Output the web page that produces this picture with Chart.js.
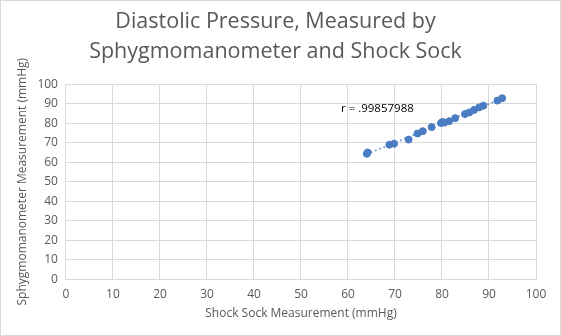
<!DOCTYPE html>
<html>
<head>
<meta charset="utf-8">
<script src="https://cdn.jsdelivr.net/npm/chart.js@4.4.0/dist/chart.umd.min.js"></script>
<style>
  html, body { margin: 0; padding: 0; background: #fff; }
  .wrap { width: 559px; height: 334px; border: 1px solid #d9d9d9; }
</style>
</head>
<body>
<div class="wrap"><canvas id="myChart" width="559" height="334"></canvas></div>
<script>
  // Shock Sock (x) vs Sphygmomanometer (y), diastolic, mmHg
  const shockSock = [64, 64.2, 68.8, 69.8, 72.9, 74.8, 75.9, 77.8, 79.8, 80.1, 80.5, 81.5, 82.8, 84.9, 85.8, 86.8, 87.9, 88.8, 91.8, 92.8];
  const sphygmo   = [64.3, 65, 69, 69.5, 71.6, 74.7, 75.9, 78, 80.1, 80.6, 80.3, 81, 82.6, 84.7, 85.5, 86.8, 88.1, 89, 91.6, 92.8];
  const rLabel = 'r = .99857988';
  const tickValues = [0, 10, 20, 30, 40, 50, 60, 70, 80, 90, 100];

  const points = shockSock.map((x, i) => ({ x: x, y: sphygmo[i] }));

  // linear trendline from the data
  const n = shockSock.length;
  const mx = shockSock.reduce((a, b) => a + b, 0) / n;
  const my = sphygmo.reduce((a, b) => a + b, 0) / n;
  let sxy = 0, sxx = 0;
  for (let i = 0; i < n; i++) {
    sxy += (shockSock[i] - mx) * (sphygmo[i] - my);
    sxx += (shockSock[i] - mx) * (shockSock[i] - mx);
  }
  const slope = sxy / sxx;
  const icpt = my - slope * mx;
  const xMin = Math.min(...shockSock), xMax = Math.max(...shockSock);
  const trend = [
    { x: xMin, y: icpt + slope * xMin },
    { x: xMax, y: icpt + slope * xMax }
  ];

  const grey = '#595959';
  Chart.defaults.font.family = "'Open Sans', 'Liberation Sans', sans-serif";
  Chart.defaults.color = grey;

  // r value text, placed with the chart scales
  const rText = {
    id: 'rText',
    afterDatasetsDraw(chart) {
      const { ctx, scales } = chart;
      ctx.save();
      ctx.font = "11.5px 'Open Sans', 'Liberation Sans', sans-serif";
      ctx.fillStyle = '#000';
      ctx.textAlign = 'left';
      ctx.textBaseline = 'middle';
      ctx.fillText(rLabel, scales.x.getPixelForValue(58.5), scales.y.getPixelForValue(87.4));
      ctx.restore();
    }
  };

  new Chart(document.getElementById('myChart'), {
    type: 'scatter',
    data: {
      datasets: [
        {
          data: points,
          backgroundColor: '#4a7dc2',
          borderColor: '#4a7dc2',
          pointRadius: 3.5,
          pointHoverRadius: 3.5
        },
        {
          type: 'line',
          data: trend,
          borderColor: '#4a7dc2',
          borderWidth: 1.5,
          borderDash: [1.5, 3],
          pointRadius: 0,
          fill: false
        }
      ]
    },
    options: {
      responsive: false,
      animation: false,
      layout: { padding: { left: 14, right: 24, top: 2, bottom: 10 } },
      plugins: {
        legend: { display: false },
        tooltip: { enabled: false },
        title: {
          display: true,
          text: ['Diastolic Pressure, Measured by', 'Sphygmomanometer and Shock Sock'],
          color: grey,
          font: { size: 21.5, weight: 'normal', lineHeight: 1.4 },
          padding: { top: 4, bottom: 17 }
        }
      },
      scales: {
        x: {
          type: 'linear',
          min: 0, max: 100,
          afterBuildTicks: (s) => { s.ticks = tickValues.map(v => ({ value: v })); },
          grid: { color: '#d9d9d9', drawTicks: false },
          border: { color: '#d9d9d9' },
          ticks: { padding: 8, font: { size: 12 }, color: grey },
          title: { display: true, text: 'Shock Sock Measurement (mmHg)', font: { size: 12 }, color: grey, padding: { top: -3 } }
        },
        y: {
          type: 'linear',
          min: 0, max: 100,
          afterBuildTicks: (s) => { s.ticks = tickValues.map(v => ({ value: v })); },
          grid: { color: '#d9d9d9', drawTicks: false },
          border: { display: false },
          ticks: { padding: 8, font: { size: 12 }, color: grey },
          title: { display: true, text: 'Sphygmomanometer Measurement (mmHg)', font: { size: 12 }, color: grey, padding: { top: 0, bottom: 0 } }
        }
      }
    },
    plugins: [rText]
  });
</script>
</body>
</html>
